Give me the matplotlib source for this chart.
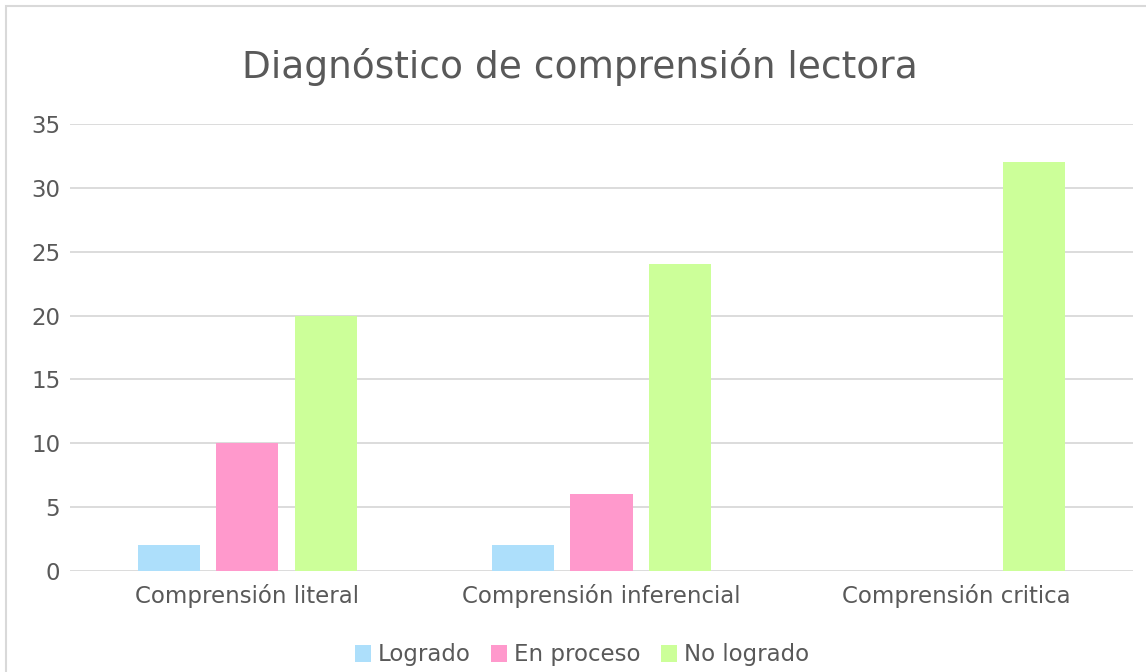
import matplotlib.pyplot as plt
import numpy as np
from matplotlib.patches import Rectangle

categorias = ['Comprensión literal', 'Comprensión inferencial', 'Comprensión critica']
series = ['Logrado', 'En proceso', 'No logrado']
logrado = [2, 2, 0]
en_proceso = [10, 6, 0]
no_logrado = [20, 24, 32]
colores = ['#ADDFFB', '#FF99CC', '#CCFF99']

texto = '#595959'
rejilla = '#D9D9D9'

fig = plt.figure(figsize=(11.46, 6.72), dpi=100)
ax = fig.add_axes([70 / 1146, 1 - 571 / 672, (1133 - 70) / 1146, (571 - 124) / 672])

# marco del gráfico
fig.patches.append(Rectangle((6 / 1146, -0.05), 1.1, 1 - 6 / 672 + 0.05,
                             transform=fig.transFigure, fill=False,
                             edgecolor=rejilla, linewidth=1.5))

x = np.arange(len(categorias))
ancho = 0.175
paso = 0.2216
for i, (nombre, valores) in enumerate(zip(series, [logrado, en_proceso, no_logrado])):
    ax.bar(x + (i - 1) * paso, valores, ancho, color=colores[i], label=nombre, zorder=3)

ax.set_xlim(-0.5, 2.5)
ax.set_ylim(0, 35)
ax.set_yticks(range(0, 36, 5))
ax.set_xticks(x)
ax.set_xticklabels(categorias)
ax.grid(axis='y', color=rejilla, linewidth=1.3, zorder=0)
for s in ax.spines.values():
    s.set_visible(False)
ax.tick_params(length=0, labelsize=16.5, colors=texto)
ax.tick_params(axis='x', pad=9)
ax.tick_params(axis='y', pad=7)

fig.text(0.506, 0.9, 'Diagnóstico de comprensión lectora', ha='center', va='center',
         fontsize=27, color=texto)

fig.legend(loc='center', bbox_to_anchor=(0.508, 1 - 655 / 672), ncol=3, frameon=False,
           fontsize=16.5, labelcolor=texto, handlelength=0.7, handleheight=0.7,
           handletextpad=0.3, columnspacing=0.9)

fig.savefig('out.png', dpi=100)
